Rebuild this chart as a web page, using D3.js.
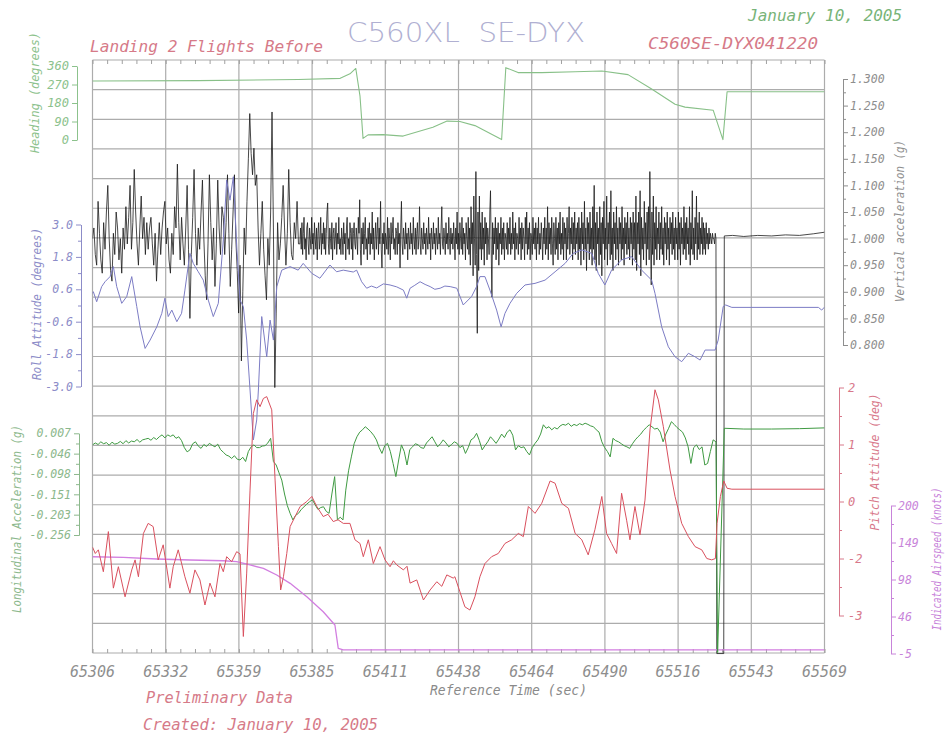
<!DOCTYPE html>
<html>
<head>
<meta charset="utf-8">
<script src="https://cdn.jsdelivr.net/npm/d3@7"></script>
<style>
  body { margin: 0; background: #fff; }
  text { font-family: "DejaVu Sans Mono", monospace; font-style: italic; }
</style>
</head>
<body>
<div id="chart-area"></div>
<script>
// time axis
const timeDomain = [65306, 65569]
const xTickLabels = ["65306", "65332", "65359", "65385", "65411", "65438", "65464", "65490", "65516", "65543", "65569"]

// axis ticks
const headingTicks = [0, 90, 180, 270, 360]
const headingTickLabels = ["0", "90", "180", "270", "360"]
const rollTicks = [3.0, 1.8, 0.6, -0.6, -1.8, -3.0]
const rollTickLabels = ["3.0", "1.8", "0.6", "-0.6", "-1.8", "-3.0"]
const longTicks = [0.007, -0.0456, -0.0982, -0.1508, -0.2034, -0.256]
const longTickLabels = ["0.007", "-0.046", "-0.098", "-0.151", "-0.203", "-0.256"]
const vertTicks = [1.3, 1.25, 1.2, 1.15, 1.1, 1.05, 1.0, 0.95, 0.9, 0.85, 0.8]
const vertTickLabels = ["1.300", "1.250", "1.200", "1.150", "1.100", "1.050", "1.000", "0.950", "0.900", "0.850", "0.800"]
const pitchTicks = [2, 0.75, -0.5, -1.75, -3]
const pitchTickLabels = ["2", "1", "0", "-2", "-3"]
const speedTicks = [200, 148.75, 97.5, 46.25, -5]
const speedTickLabels = ["200", "149", "98", "46", "-5"]

// heading (degrees)
const headingTimes = [65306, 65344, 65380, 65395, 65398.5, 65400.6, 65402.1, 65403.2, 65405, 65410.4, 65417.6, 65428.3, 65433.4, 65438, 65443.4, 65453, 65454.5, 65458.9, 65467.4, 65479.4, 65489, 65498.4, 65506.9, 65515.3, 65518.9, 65529, 65532.5, 65534, 65569]
const headingValues = [287, 289, 294, 300, 322, 348, 215, 8, 25, 26, 19, 62, 92, 90, 70, 2, 352, 328, 328, 332, 336, 318, 248, 174, 160, 145, 2, 235, 235]

// roll attitude (degrees)
const rollTimes = [65306, 65306.3, 65307.5, 65309.3, 65310.5, 65312.3, 65313.5, 65314.7, 65316.5, 65318.3, 65320.1, 65321.9, 65323.1, 65324.9, 65326.7, 65329.1, 65330.9, 65332.0, 65333.2, 65334.5, 65336.3, 65338.0, 65339.2, 65341.0, 65342.2, 65344.0, 65345.8, 65347.6, 65349.4, 65351.2, 65353.0, 65354.2, 65355.4, 65356.6, 65357.9, 65359.0, 65360.2, 65361.4, 65362.6, 65363.8, 65365.0, 65365.6, 65366.8, 65368.6, 65369.8, 65371.0, 65372.2, 65374.0, 65377.0, 65379.9, 65381.7, 65384.8, 65387.7, 65391.3, 65393.7, 65396.1, 65399.7, 65400.9, 65402.7, 65404.5, 65406.2, 65408.1, 65410.5, 65412.9, 65415.3, 65417.7, 65418.9, 65420.1, 65421.8, 65423.7, 65425.5, 65427.3, 65429.0, 65430.9, 65432.6, 65434.5, 65436.9, 65439.2, 65442.2, 65444.0, 65445.2, 65447.0, 65448.8, 65451.2, 65452.8, 65454.2, 65456.0, 65458.4, 65461.4, 65465.0, 65468.6, 65472.2, 65475.8, 65478.7, 65481.8, 65485.4, 65487.7, 65490.1, 65492.5, 65496.1, 65499.7, 65503.3, 65506.9, 65508.1, 65510.5, 65512.9, 65515.3, 65517.7, 65520.1, 65522.5, 65524.3, 65526.1, 65529.7, 65530.8, 65532.6, 65533.5, 65535.7, 65566.8, 65568.0, 65569.0]
const rollValues = [0.45, 0.51, 0.14, 0.70, 0.88, 1.07, 1.44, 0.70, 0.08, 0.33, 1.07, -0.04, -0.79, -1.59, -1.28, -0.79, -0.29, 0.27, -0.41, -0.17, -0.60, -0.29, 0.57, 1.93, 1.56, 1.25, 0.94, 0.20, -0.41, 0.08, 2.43, 4.65, 3.90, 4.77, 2.06, 0.20, -0.04, -1.28, -3.13, -4.98, -4.24, -3.13, -0.41, -1.90, -0.54, -1.28, 0.70, 1.31, 1.44, 1.31, 1.56, 1.19, 1.01, 1.50, 1.25, 1.31, 1.24, 1.31, 0.88, 0.64, 0.72, 0.65, 0.80, 0.76, 0.69, 0.57, 0.27, 0.64, 0.75, 0.88, 0.78, 0.70, 0.60, 0.64, 0.72, 0.70, 0.64, 0.02, 0.33, 0.70, 1.07, 1.07, 0.57, -0.17, -0.79, -0.29, 0.08, 0.45, 0.76, 0.82, 0.94, 1.25, 1.56, 1.93, 2.06, 1.93, 1.19, 0.76, 1.31, 1.69, 1.81, 1.31, 0.94, 0.45, -0.79, -1.53, -1.90, -2.08, -1.77, -1.90, -2.02, -1.65, -1.65, -1.28, -0.04, 0.02, -0.07, -0.07, -0.17, -0.06]

// vertical acceleration (g): approach, every 0.5 s from 65306
const vertEarlyStart = 65306
const vertEarlyStep = 0.5
const vertEarlyValues = [
  1.00, 1.02, 0.97, 0.95, 1.07, 1.01, 0.96, 0.935, 1.03, 0.98,
  1.05, 1.10, 1.00, 0.94, 0.92, 1.01, 0.97, 1.05, 1.02, 0.96,
  1.00, 0.935, 1.02, 0.98, 1.06, 0.99, 1.04, 1.10, 0.98, 1.03,
  1.13, 1.05, 0.99, 0.95, 1.02, 1.08, 1.00, 1.04, 0.97, 1.03,
  0.98, 1.02, 1.04, 0.99, 0.95, 1.01, 0.92, 0.98, 1.03, 0.97,
  1.02, 1.05, 1.07, 0.99, 1.02, 0.96, 0.935, 1.01, 0.97, 1.06,
  1.02, 1.14, 1.03, 0.96, 1.04, 0.99, 0.95, 1.02, 1.10, 0.98,
  0.85, 0.97, 1.04, 1.13, 1.01, 0.95, 1.02, 0.98, 1.05, 1.11,
  1.00, 0.93, 0.885, 0.99, 1.12, 1.03, 0.96, 1.02, 0.91, 0.99,
  1.11, 1.02, 0.97, 1.06, 1.04, 0.97, 1.03, 1.12, 1.01, 0.91,
  0.98, 1.05, 1.12, 1.00, 0.94, 0.86, 0.95, 0.77, 0.90, 1.02,
  0.97, 1.07, 1.15, 1.235, 1.16, 1.12, 1.17, 1.10, 1.12, 1.02,
  0.95, 1.01, 1.07, 0.98, 0.93, 0.885, 1.00, 0.95, 1.05, 1.238,
  1.02, 0.72, 0.86, 1.03, 0.96, 0.99, 1.04, 1.10, 1.02, 0.95,
  1.01, 1.13, 1.03, 0.97, 0.96, 1.03, 1.00, 1.07, 0.99
]
// vertical acceleration (g): after flare, every 0.25 s from 65380.5
const vertBandStart = 65380.5
const vertBandStep = 0.25
const vertBandValues = [
  0.99, 1.02, 0.98, 1.03, 0.97, 1.01, 1.04, 0.98, 1.00, 0.96, 1.02, 1.03, 0.99, 0.97, 1.02, 1.00, 0.98, 1.04, 0.99, 1.01,
  0.97, 1.03, 1.00, 0.98, 1.02, 0.96, 1.01, 1.03, 0.98, 1.00, 1.04, 0.97, 1.01, 0.99, 1.03, 0.98, 1.02, 0.97, 1.01, 1.05,
  1.067, 0.99, 0.97, 1.02, 1.00, 0.98, 1.03, 0.96, 1.01, 1.02, 0.98, 1.00, 1.03, 0.97, 1.01, 0.99, 1.04, 0.98, 1.00, 0.97,
  1.02, 1.00, 0.97, 1.03, 0.99, 1.01, 0.96, 1.02, 1.04, 0.98, 1.00, 0.97, 1.03, 1.01, 0.98, 1.02, 0.96, 1.01, 1.03, 0.99,
  0.98, 1.02, 1.00, 0.97, 1.04, 1.01, 1.073, 0.98, 0.95, 1.02, 0.99, 1.03, 0.97, 1.01, 1.04, 0.98, 1.00, 0.96, 1.02, 0.99,
  1.03, 0.97, 1.01, 0.99, 1.05, 0.98, 1.02, 0.96, 1.00, 1.03, 0.98, 1.01, 1.04, 0.97, 1.02, 0.99, 1.07, 0.98, 0.945, 1.01,
  0.99, 1.03, 0.97, 1.01, 1.00, 0.98, 1.04, 0.97, 1.02, 1.00, 0.96, 1.03, 0.99, 1.01, 1.04, 0.98, 1.00, 0.97, 1.02, 1.01,
  0.97, 1.03, 0.99, 1.01, 0.945, 1.02, 1.07, 0.99, 0.97, 1.02, 1.00, 0.98, 1.03, 0.99, 1.01, 0.96, 1.02, 1.00, 0.98, 1.03,
  0.99, 1.01, 0.97, 1.04, 1.00, 0.98, 1.02, 0.97, 1.01, 1.03, 0.98, 1.00, 1.06, 0.99, 0.97, 1.02, 1.00, 0.98, 1.03, 0.99,
  1.01, 0.97, 1.02, 1.00, 0.98, 1.04, 0.99, 1.01, 0.96, 1.02, 1.00, 0.98, 1.03, 0.99, 1.01, 0.97, 1.02, 1.00, 0.98, 1.04,
  0.99, 1.01, 0.97, 1.02, 1.06, 0.99, 0.98, 1.02, 1.00, 0.97, 1.03, 0.99, 1.01, 0.98, 1.04, 1.00, 0.97, 1.02, 0.99, 1.01,
  0.98, 1.03, 1.00, 0.96, 1.02, 0.99, 1.05, 0.98, 1.01, 0.97, 1.03, 1.00, 0.98, 1.04, 0.97, 1.02, 0.99, 1.01, 0.96, 1.03,
  1.00, 0.98, 1.04, 0.97, 1.02, 0.95, 1.06, 0.99, 1.03, 0.93, 1.08, 1.00, 0.95, 1.126, 0.97, 0.822, 1.05, 0.94, 1.08, 0.98,
  1.03, 0.96, 1.05, 0.98, 1.02, 0.95, 1.04, 0.99, 1.03, 0.96, 1.02, 1.00, 0.97, 1.05, 1.09, 0.98, 0.89, 1.03, 0.97, 1.02,
  0.99, 1.04, 0.96, 1.02, 0.98, 1.03, 0.95, 1.01, 0.99, 1.04, 0.97, 1.02, 0.98, 1.03, 0.96, 1.01, 1.00, 0.98, 1.03, 0.97,
  1.02, 0.99, 1.04, 0.97, 1.01, 0.98, 1.05, 0.99, 1.02, 0.96, 1.03, 0.98, 1.01, 1.00, 0.97, 1.04, 0.99, 1.02, 0.96, 1.03,
  0.98, 1.02, 1.00, 0.96, 1.04, 0.99, 1.05, 0.97, 1.02, 0.98, 1.03, 0.96, 1.01, 1.00, 0.97, 1.04, 0.99, 1.02, 0.98, 1.03,
  0.96, 1.02, 0.99, 1.04, 0.97, 1.01, 0.98, 1.03, 1.00, 0.96, 1.02, 0.99, 1.04, 0.97, 1.02, 0.98, 1.06, 0.96, 1.03, 0.99,
  1.02, 0.97, 1.04, 0.99, 0.95, 1.03, 1.00, 0.97, 1.04, 0.98, 1.02, 0.96, 1.03, 0.99, 1.05, 0.97, 1.01, 0.98, 1.04, 0.96,
  1.03, 0.99, 1.02, 0.96, 1.04, 0.98, 1.01, 1.06, 0.97, 1.02, 0.99, 1.04, 0.96, 1.03, 0.98, 1.05, 0.97, 1.02, 0.99, 1.03,
  0.96, 1.04, 0.98, 1.02, 0.95, 1.05, 0.99, 1.03, 0.96, 1.07, 0.98, 1.02, 0.94, 1.04, 0.99, 1.03, 0.96, 1.05, 0.98, 1.02,
  0.95, 1.06, 0.98, 1.10, 0.96, 1.03, 0.94, 1.05, 0.99, 1.02, 0.95, 1.06, 0.97, 1.03, 0.93, 1.04, 0.99, 1.07, 0.96, 1.02,
  0.98, 1.08, 0.95, 1.03, 0.99, 1.05, 0.96, 1.09, 0.97, 1.02, 0.94, 1.05, 0.99, 1.03, 0.96, 1.06, 0.98, 1.02, 0.95, 1.04,
  0.99, 1.03, 0.96, 1.06, 0.98, 1.02, 0.95, 1.04, 0.99, 1.03, 0.97, 1.05, 0.98, 1.02, 0.96, 1.04, 0.99, 1.03, 0.95, 1.05,
  0.98, 1.03, 0.96, 1.08, 0.94, 1.03, 0.99, 1.05, 0.97, 1.09, 0.93, 1.04, 0.98, 1.02, 0.96, 1.07, 0.99, 1.03, 0.95, 1.05,
  0.98, 1.06, 0.96, 1.126, 1.00, 0.913, 1.05, 0.97, 1.08, 0.95, 1.03, 0.98, 1.06, 0.96, 1.02, 0.99, 1.05, 0.96, 1.03, 0.98,
  1.06, 0.97, 1.02, 0.95, 1.04, 0.99, 1.03, 0.96, 1.05, 0.98, 1.02, 0.95, 1.04, 0.99, 1.03, 0.97, 1.05, 0.98, 1.02, 0.96,
  1.04, 0.99, 1.02, 0.96, 1.05, 0.98, 1.03, 0.95, 1.04, 0.99, 1.02, 0.97, 1.06, 0.98, 1.03, 0.96, 1.04, 0.99, 1.02, 0.97,
  1.06, 0.95, 1.03, 0.98, 1.09, 0.97, 1.02, 0.96, 1.04, 0.99, 1.08, 0.96, 1.03, 0.98, 1.05, 0.97, 1.02, 0.99, 1.04, 0.97,
  1.03, 0.98, 1.02, 0.97, 1.03, 0.99, 1.01, 0.98, 1.02, 0.99, 1.01, 1.00, 0.99, 1.01, 1.00, 1.00, 0.99, 1.01
]
// touchdown and roll-out
const vertTailTimes = [65530.0, 65530.3, 65532.8, 65533.0, 65536, 65540, 65545, 65550, 65555, 65560, 65565, 65569]
const vertTailValues = [1.00, 0.22, 0.22, 1.005, 1.006, 1.004, 1.006, 1.005, 1.007, 1.006, 1.009, 1.012]

// longitudinal acceleration (g), one value per second from 65306
const longStart = 65306
const longStep = 1
const longValues = [
  -0.023, -0.018, -0.022, -0.015, -0.020, -0.017, -0.024, -0.016, -0.021, -0.019,
  -0.014, -0.020, -0.012, -0.018, -0.013, -0.015, -0.009, -0.016, -0.010, -0.008,
  -0.006, -0.011, -0.004, -0.009, -0.002, 0.003, -0.005, 0.003, -0.001, 0.003,
  -0.006, -0.002, -0.012, -0.030, -0.041, -0.036, -0.020, -0.015, -0.026, -0.032,
  -0.022, -0.027, -0.019, -0.024, -0.028, -0.021, -0.035, -0.042, -0.049, -0.052,
  -0.058, -0.051, -0.060, -0.062, -0.055, -0.066, -0.040, -0.028, -0.023, -0.030,
  -0.030, -0.026, -0.025, -0.018, -0.006, -0.066, -0.075, -0.095, -0.114, -0.150,
  -0.180, -0.200, -0.217, -0.205, -0.200, -0.190, -0.183, -0.176, -0.170, -0.165,
  -0.178, -0.190, -0.185, -0.183, -0.195, -0.200, -0.150, -0.105, -0.217, -0.210,
  -0.217, -0.140, -0.090, -0.054, -0.020, -0.002, 0.010, 0.016, 0.024, 0.018,
  0.011, 0.002, -0.010, -0.030, -0.045, -0.025, -0.019, -0.040, -0.071, -0.105,
  -0.062, -0.023, -0.040, -0.075, -0.035, -0.028, -0.020, -0.023, -0.030, -0.032,
  -0.018, -0.010, -0.002, -0.015, -0.028, -0.020, -0.010, -0.018, -0.028, -0.022,
  -0.015, -0.019, -0.030, -0.025, -0.045, -0.030, -0.010, -0.005, 0.007, -0.012,
  -0.036, -0.025, -0.015, -0.002, -0.010, -0.019, -0.008, 0.005, -0.004, 0.010,
  0.016, 0.002, -0.036, -0.025, -0.030, -0.028, -0.040, -0.049, -0.030, -0.019,
  -0.010, 0.005, 0.029, 0.020, 0.024, 0.016, 0.022, 0.018, 0.026, 0.030,
  0.028, 0.033, 0.025, 0.030, 0.027, 0.032, 0.029, 0.033, 0.030, 0.026,
  0.024, 0.016, 0.010, -0.015, -0.030, -0.040, -0.054, -0.006, -0.012, -0.015,
  -0.020, -0.025, -0.028, -0.032, -0.020, -0.010, -0.002, 0.005, 0.015, 0.022,
  0.029, 0.024, 0.018, 0.020, 0.010, -0.015, 0.005, 0.020, 0.037, 0.030,
  0.022, 0.016, 0.010, -0.005, -0.028, -0.071, -0.030, -0.023, -0.035, -0.028,
  -0.075, -0.071, -0.040, -0.010, -0.015
]
const longTailTimes = [65530.6, 65533.0, 65540, 65550, 65560, 65569]
const longTailValues = [-0.56, 0.020, 0.018, 0.018, 0.019, 0.021]

// pitch attitude (deg)
const pitchTimes = [65306, 65307, 65308.1, 65309.9, 65311.7, 65313.5, 65315.3, 65317.7, 65320.1, 65321.3, 65322.5, 65324.3, 65326.0, 65327.8, 65329.6, 65331.4, 65333.8, 65335.0, 65336.8, 65339.2, 65341.0, 65342.8, 65344.6, 65346.4, 65348.2, 65350.0, 65351.8, 65353.0, 65354.2, 65356.0, 65357.8, 65359.0, 65360.2, 65361.4, 65362.6, 65363.8, 65365.0, 65366.2, 65367.4, 65368.6, 65370.4, 65371.6, 65372.8, 65373.6, 65374.6, 65375.8, 65377.0, 65378.8, 65380.6, 65383.0, 65384.8, 65386.6, 65388.9, 65390.6, 65392.5, 65394.2, 65396.1, 65398.5, 65400.3, 65402.1, 65403.3, 65405.1, 65406.9, 65409.3, 65411.1, 65412.9, 65414.1, 65415.3, 65417.7, 65419.0, 65420.1, 65422.5, 65424.9, 65427.3, 65429.7, 65431.5, 65433.3, 65435.6, 65436.2, 65438.0, 65439.8, 65441.6, 65443.4, 65445.2, 65447.0, 65449.4, 65451.8, 65454.2, 65456.6, 65459.0, 65460.8, 65462.6, 65465.0, 65467.4, 65470.4, 65472.2, 65474.6, 65477.0, 65479.4, 65481.8, 65484.1, 65486.5, 65489.0, 65490.7, 65492.5, 65494.3, 65496.1, 65497.9, 65499.1, 65500.9, 65502.7, 65504.5, 65506.3, 65508.1, 65509.3, 65511.1, 65513.5, 65515.3, 65517.7, 65520.1, 65522.5, 65524.9, 65526.7, 65528.5, 65529.8, 65530.4, 65531.6, 65532.8, 65534.0, 65535.7, 65569]
const pitchValues = [-1.50, -1.64, -1.56, -2.04, -1.16, -2.40, -1.93, -2.59, -2.00, -1.78, -2.15, -1.20, -0.98, -1.05, -1.78, -1.45, -2.40, -1.93, -1.56, -2.15, -2.51, -2.00, -2.22, -2.77, -2.29, -2.59, -1.86, -2.04, -1.71, -1.82, -1.60, -1.65, -3.46, -2.07, -0.25, 1.43, 1.73, 1.58, 1.76, 1.80, 1.51, -0.03, -1.49, -2.44, -2.15, -1.64, -1.05, -0.83, -0.61, -0.50, -0.39, -0.61, -0.83, -0.78, -0.94, -0.90, -0.98, -0.98, -1.34, -1.42, -1.71, -1.34, -1.86, -1.49, -1.78, -1.93, -1.80, -1.89, -2.00, -1.92, -2.29, -2.22, -2.66, -2.44, -2.26, -2.36, -2.11, -2.18, -2.15, -2.48, -2.81, -2.88, -2.59, -2.15, -1.86, -1.71, -1.64, -1.42, -1.34, -1.20, -1.27, -0.61, -0.76, -0.54, -0.05, -0.10, -0.54, -0.65, -1.20, -1.34, -1.67, -1.12, -0.39, -1.20, -1.42, -1.64, -0.32, -0.91, -1.34, -0.61, -1.23, -0.47, 1.07, 1.95, 1.73, 1.14, 0.19, -0.39, -0.98, -1.27, -1.49, -1.56, -1.75, -1.78, -1.75, -0.98, -0.39, -0.05, -0.21, -0.23, -0.23]

// indicated airspeed (knots)
const speedTimes = [65306, 65317.1, 65329.1, 65341, 65353, 65357.8, 65362.6, 65367.4, 65372.2, 65377, 65383, 65388.9, 65393.1, 65394.3, 65396.1, 65569]
const speedValues = [129, 128.2, 125.9, 124.5, 123.5, 122.2, 117.6, 113, 103.7, 92.2, 73.7, 52.9, 34.5, 2.2, -0.1, -0.1]

const FRAME = {LEFT: 92.5, RIGHT: 824.5, TOP: 60, BOTTOM: 653}
const GRID_ROWS = 20
const GRID_COLS = 10

const svg = d3.select("#chart-area").append("svg")
  .attr("width", 950)
  .attr("height", 735)

const x = d3.scaleLinear().domain(timeDomain).range([FRAME.LEFT, FRAME.RIGHT])
const row = d3.scaleLinear().domain([0, GRID_ROWS]).range([FRAME.BOTTOM, FRAME.TOP])

const headingY = d3.scaleLinear().domain([0, 360]).range([140, 66])
const rollY = d3.scaleLinear().domain([-3, 3]).range([386.5, 224.5])
const longY = d3.scaleLinear().domain([-0.256, 0.007]).range([535, 433.3])
const vertY = d3.scaleLinear().domain([0.8, 1.3]).range([345, 79])
const pitchY = d3.scaleLinear().domain([-3, 2]).range([615.5, 387.5])
const speedY = d3.scaleLinear().domain([-5, 200]).range([653.5, 505.5])

const span = timeDomain[1] - timeDomain[0]
const xTicks = d3.range(GRID_COLS + 1).map(i => timeDomain[0] + i * span / GRID_COLS)
const xMinor = d3.range(GRID_COLS * 5 + 1).map(i => timeDomain[0] + i * span / (GRID_COLS * 5))

// grid
const grid = svg.append("g").attr("stroke", "#acacac").attr("stroke-width", 1.2)
grid.selectAll(".vgrid").data(xTicks).join("line")
  .attr("class", "vgrid")
  .attr("x1", d => x(d)).attr("x2", d => x(d))
  .attr("y1", FRAME.TOP).attr("y2", FRAME.BOTTOM)
grid.selectAll(".hgrid").data(d3.range(GRID_ROWS + 1)).join("line")
  .attr("class", "hgrid")
  .attr("x1", FRAME.LEFT).attr("x2", FRAME.RIGHT)
  .attr("y1", d => row(d)).attr("y2", d => row(d))

// small ticks on top and bottom of the frame
const topTicks = svg.append("g").attr("transform", `translate(0,${FRAME.TOP})`)
  .call(d3.axisBottom(x).tickValues(xMinor).tickSize(4).tickSizeOuter(0).tickFormat(""))
const botTicks = svg.append("g").attr("transform", `translate(0,${FRAME.BOTTOM})`)
  .call(d3.axisTop(x).tickValues(xMinor).tickSize(4).tickSizeOuter(0).tickFormat(""))
topTicks.select(".domain").remove()
botTicks.select(".domain").remove()
svg.selectAll("g.tick line").attr("stroke", "#a0a0a0")

// x tick labels
svg.append("g").selectAll("text").data(xTickLabels).join("text")
  .attr("x", (d, i) => x(xTicks[i]))
  .attr("y", 677)
  .attr("text-anchor", "middle")
  .attr("font-size", 15)
  .attr("fill", "#8e8e8e")
  .attr("textLength", 45)
  .attr("lengthAdjust", "spacingAndGlyphs")
  .text(d => d)

// series
svg.append("clipPath").attr("id", "frame-clip")
  .append("rect")
  .attr("x", FRAME.LEFT).attr("y", FRAME.TOP - 2)
  .attr("width", FRAME.RIGHT - FRAME.LEFT).attr("height", FRAME.BOTTOM - FRAME.TOP + 4)

const plot = svg.append("g").attr("clip-path", "url(#frame-clip)")

function drawSeries (times, values, yScale, color, width) {
  const line = d3.line()
    .x((d, i) => x(times[i]))
    .y(d => yScale(d))
  plot.append("path")
    .datum(values)
    .attr("d", line)
    .attr("fill", "none")
    .attr("stroke", color)
    .attr("stroke-width", width)
    .attr("stroke-linejoin", "round")
}

const vertEarlyTimes = vertEarlyValues.map((d, i) => vertEarlyStart + i * vertEarlyStep)
const vertBandTimes = vertBandValues.map((d, i) => vertBandStart + i * vertBandStep)
const longTimes = longValues.map((d, i) => longStart + i * longStep)

drawSeries(headingTimes, headingValues, headingY, "#88c088", 1.1)
drawSeries(
  vertEarlyTimes.concat(vertBandTimes, vertTailTimes),
  vertEarlyValues.concat(vertBandValues, vertTailValues),
  vertY, "#1a1a1a", 0.8)
drawSeries(rollTimes, rollValues, rollY, "#7c7cc4", 1)
drawSeries(speedTimes, speedValues, speedY, "#d27ee0", 1.3)
drawSeries(longTimes.concat(longTailTimes), longValues.concat(longTailValues), longY, "#3f9a42", 1)
drawSeries(pitchTimes, pitchValues, pitchY, "#d9505e", 1)

// side axes
function sideAxis (axisFn, scale, xPos, ticks, labels, color, fontSize, pad, minor) {
  const g = svg.append("g").attr("transform", `translate(${xPos},0)`)
  if (minor) {
    g.append("g").call(axisFn(scale).tickValues(minor).tickSize(3).tickSizeOuter(0).tickFormat(""))
  }
  g.append("g").call(axisFn(scale)
    .tickValues(ticks)
    .tickSize(5)
    .tickSizeOuter(0)
    .tickPadding(pad)
    .tickFormat(d => labels[ticks.indexOf(d)]))
  g.selectAll("path, line").attr("stroke", color)
  g.selectAll("text")
    .attr("fill", color)
    .attr("font-size", fontSize)
  return g
}

const mids = t => d3.pairs(t).map(([a, b]) => (a + b) / 2)

sideAxis(d3.axisLeft, headingY, 77, headingTicks, headingTickLabels, "#8cc28c", 12, 3)
sideAxis(d3.axisLeft, rollY, 81, rollTicks, rollTickLabels, "#8c8cc8", 11.5, 3, mids(rollTicks))
sideAxis(d3.axisLeft, longY, 79, longTicks, longTickLabels, "#8cb88c", 11.5, 3, mids(longTicks))
sideAxis(d3.axisRight, vertY, 843, vertTicks, vertTickLabels, "#8e8e8e", 11.5, 2, mids(vertTicks))
sideAxis(d3.axisRight, pitchY, 839, pitchTicks, pitchTickLabels, "#d8788a", 12, 4, mids(pitchTicks))
sideAxis(d3.axisRight, speedY, 891, speedTicks, speedTickLabels, "#c884da", 11.5, 2, mids(speedTicks))

// axis titles
const axisTitles = [
  {text: "Heading (degrees)", x: 35, y: 92.5, len: 121, color: "#8cc28c"},
  {text: "Roll Attitude (degrees)", x: 37, y: 304, len: 152, color: "#8c8cc8"},
  {text: "Longitudinal Acceleration (g)", x: 17, y: 519, len: 188, color: "#8cb88c"},
  {text: "Vertical acceleration (g)", x: 900, y: 221, len: 162, color: "#8e8e8e"},
  {text: "Pitch Attitude (deg)", x: 875, y: 462, len: 137, color: "#d8788a"},
  {text: "Indicated Airspeed (knots)", x: 937, y: 559, len: 143, color: "#c884da"}
]
svg.append("g").selectAll("text").data(axisTitles).join("text")
  .attr("transform", d => `translate(${d.x},${d.y}) rotate(-90)`)
  .attr("text-anchor", "middle")
  .attr("dy", "0.35em")
  .attr("font-size", 12)
  .attr("fill", d => d.color)
  .attr("textLength", d => d.len)
  .attr("lengthAdjust", "spacingAndGlyphs")
  .text(d => d.text)

// titles and notes
const notes = [
  {text: "January 10, 2005", x: 748, y: 21, len: 154, size: 16, color: "#78b478"},
  {text: "Landing 2 Flights Before", x: 90, y: 52, len: 233, size: 16, color: "#d67a88"},
  {text: "C560SE-DYX041220", x: 648, y: 48.5, len: 170, size: 16, color: "#d67a88"},
  {text: "Reference Time (sec)", x: 430, y: 695, len: 157, size: 14, color: "#8a8a8a"},
  {text: "Preliminary Data", x: 146, y: 703, len: 147, size: 16, color: "#d67a88"},
  {text: "Created: January 10, 2005", x: 143, y: 730, len: 235, size: 16, color: "#d67a88"}
]
svg.append("g").selectAll("text").data(notes).join("text")
  .attr("x", d => d.x)
  .attr("y", d => d.y)
  .attr("font-size", d => d.size)
  .attr("fill", d => d.color)
  .attr("textLength", d => d.len)
  .attr("lengthAdjust", "spacingAndGlyphs")
  .text(d => d.text)

svg.append("text")
  .attr("x", 347)
  .attr("y", 42)
  .attr("font-size", 26)
  .attr("fill", "#b0b0d2")
  .attr("textLength", 238)
  .attr("lengthAdjust", "spacingAndGlyphs")
  .style("font-family", "'DejaVu Sans', sans-serif")
  .style("font-style", "normal")
  .style("font-weight", 200)
  .style("white-space", "pre")
  .text("C560XL  SE-DYX")
</script>
</body>
</html>
